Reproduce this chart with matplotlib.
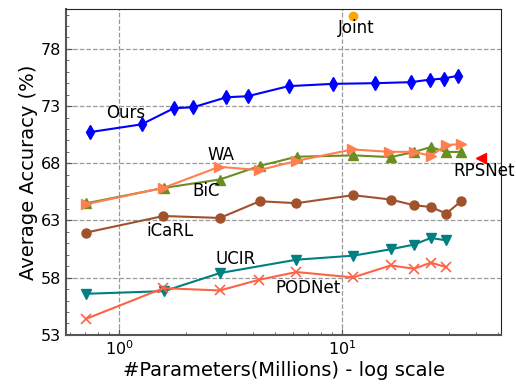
import matplotlib
matplotlib.use("Agg")
import matplotlib.pyplot as plt
from matplotlib.ticker import MultipleLocator

# Data (params in millions, accuracy in %)
ours_x = [0.744, 1.26, 1.76, 2.15, 3.03, 3.77, 5.75, 9.06, 14.06, 20.4, 24.7, 28.5, 33.1]
ours_y = [70.73, 71.4, 72.81, 72.9, 73.77, 73.86, 74.74, 74.94, 75.0, 75.09, 75.31, 75.4, 75.66]

wa_x = [0.711, 1.58, 2.81, 4.25, 6.2, 11.1, 16.2, 20.9, 25.0, 29.3, 34.3]
wa_y = [64.42, 65.85, 67.69, 67.4, 68.19, 69.21, 69.0, 69.0, 68.65, 69.59, 69.68]

bic_x = [0.711, 1.59, 2.83, 4.29, 6.25, 11.2, 16.5, 21.0, 25.0, 29.3, 34.3]
bic_y = [64.5, 65.85, 66.58, 67.78, 68.57, 68.69, 68.54, 68.98, 69.42, 68.98, 69.0]

icarl_x = [0.711, 1.58, 2.83, 4.27, 6.24, 11.2, 16.5, 21.0, 25.0, 29.3, 34.3]
icarl_y = [61.94, 63.39, 63.22, 64.68, 64.51, 65.21, 64.83, 64.33, 64.18, 63.6, 64.71]

ucir_x = [0.711, 1.59, 2.83, 6.24, 11.2, 16.5, 21.0, 25.0, 29.3]
ucir_y = [56.59, 56.82, 58.4, 59.57, 59.92, 60.48, 60.89, 61.47, 61.26]

podnet_x = [0.711, 1.58, 2.83, 4.25, 6.24, 11.2, 16.5, 21.0, 25.0, 29.3]
podnet_y = [54.4, 57.08, 56.88, 57.82, 58.49, 58.02, 59.07, 58.78, 59.31, 58.92]

joint_x, joint_y = [11.2], [80.9]
rpsnet_x, rpsnet_y = [42.1], [68.45]

fig = plt.figure(figsize=(5.16, 3.84), dpi=100)
ax = fig.add_axes([0.128, 0.128, 0.843, 0.849])

ax.plot(ours_x, ours_y, color='blue', marker='d', markersize=7, lw=1.5)
ax.plot(bic_x, bic_y, color='#6B8E23', marker='^', markersize=7, lw=1.5)
ax.plot(wa_x, wa_y, color='#FF7F50', marker='>', markersize=7, lw=1.5)
ax.plot(icarl_x, icarl_y, color='#A0522D', marker='o', markersize=6.5, lw=1.5)
ax.plot(ucir_x, ucir_y, color='teal', marker='v', markersize=7, lw=1.5)
ax.plot(podnet_x, podnet_y, color='#FF6347', marker='x', markersize=7, lw=1.5, mew=1.2)
ax.plot(joint_x, joint_y, color='orange', marker='o', markersize=6, lw=0)
ax.plot(rpsnet_x, rpsnet_y, color='red', marker='<', markersize=7, lw=0)

ax.set_xscale('log')
ax.set_xlim(0.578, 51.6)
ax.set_ylim(53, 81.5)
ax.set_yticks([53, 58, 63, 68, 73, 78])
ax.yaxis.set_minor_locator(MultipleLocator(1))
ax.tick_params(axis='both', which='both', direction='in', colors='#555555', labelcolor='black', labelsize=11.5)
ax.tick_params(which='major', length=4)
ax.tick_params(which='minor', length=2.5)
ax.grid(True, which='major', linestyle='--', color='#999999', lw=0.9)
for s in ['left', 'bottom']:
    ax.spines[s].set_color('#555555')
    ax.spines[s].set_linewidth(1.5)
for s in ['top', 'right']:
    ax.spines[s].set_color('#222222')

ax.set_xlabel('#Parameters(Millions) - log scale', fontsize=14, labelpad=2)
ax.set_ylabel('Average Accuracy (%)', fontsize=14, labelpad=2)

fs = 12
ax.text(1.07, 72.42, 'Ours', fontsize=fs, ha='center', va='center')
ax.text(2.87, 68.75, 'WA', fontsize=fs, ha='center', va='center')
ax.text(2.45, 65.6, 'BiC', fontsize=fs, ha='center', va='center')
ax.text(1.685, 62.08, 'iCaRL', fontsize=fs, ha='center', va='center')
ax.text(3.32, 59.6, 'UCIR', fontsize=fs, ha='center', va='center')
ax.text(7.04, 57.12, 'PODNet', fontsize=fs, ha='center', va='center')
ax.text(11.55, 79.82, 'Joint', fontsize=fs, ha='center', va='center')
ax.text(43.3, 67.34, 'RPSNet', fontsize=fs, ha='center', va='center')

fig.savefig('out.png', dpi=100)
